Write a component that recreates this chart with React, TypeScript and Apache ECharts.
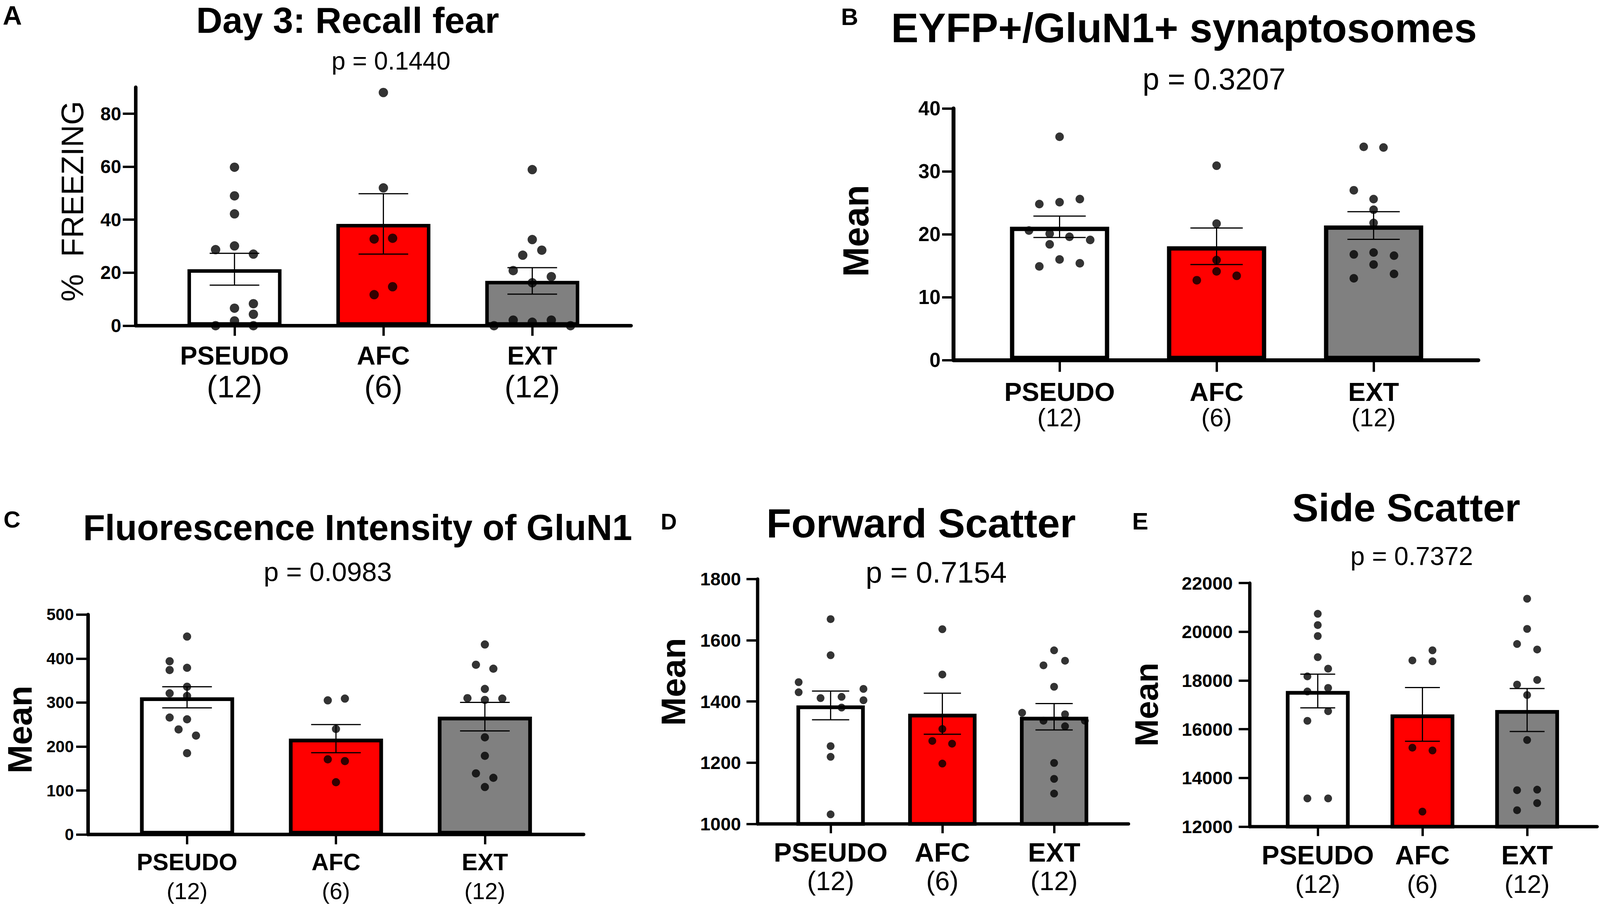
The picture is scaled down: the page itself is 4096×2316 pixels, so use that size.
import React, { useEffect, useRef } from "react";
import * as echarts from "echarts";

// ---------- DATA ----------
const CATEGORIES = ["PSEUDO", "AFC", "EXT"];
const GROUP_SIZES = ["(12)", "(6)", "(12)"];
const BAR_COLORS = ["#ffffff", "#ff0000", "#808080"];

// Panel A: Day 3 recall fear (% freezing)
const A_TICKS = [0, 20, 40, 60, 80];
const A_MEANS = [21.3, 38.4, 16.9];
const A_SEMS = [6.0, 11.4, 5.0];
const A_PSEUDO = [59.8, 49.0, 42.2, 30.1, 28.7, 27.0, 8.3, 6.6, 4.3, 1.8, 0, 0];
const A_PSEUDO_JIT = [0, 0, 0, 0, -0.127, 0.127, 0.127, 0, 0.127, 0, -0.127, 0.127];
const A_AFC = [88.0, 52.0, 33.0, 32.7, 14.7, 11.7];
const A_AFC_JIT = [0, 0, 0.062, -0.062, 0.062, -0.062];
const A_EXT = [58.9, 32.5, 28.5, 26.6, 20.8, 18.5, 16.2, 2.1, 2.1, 1.3, 0, 0];
const A_EXT_JIT = [0, 0, 0.064, -0.064, -0.128, 0.128, 0, -0.128, 0.128, 0, -0.257, 0.257];

// Panel B: EYFP+/GluN1+ synaptosomes
const B_TICKS = [0, 10, 20, 30, 40];
const B_MEANS = [21.2, 18.1, 21.4];
const B_SEMS = [1.7, 2.9, 2.2];
const B_PSEUDO = [35.5, 24.8, 25.1, 25.6, 20.6, 20.1, 19.6, 19.1, 18.4, 16.0, 14.9, 15.4];
const B_PSEUDO_JIT = [0, -0.129, 0, 0.129, -0.195, -0.063, 0.063, 0.195, -0.063, 0, -0.129, 0.129];
const B_AFC = [30.9, 21.7, 15.9, 14.1, 12.7, 13.4];
const B_AFC_JIT = [0, 0, 0, 0, -0.126, 0.128];
const B_EXT = [33.9, 33.8, 27.0, 25.6, 23.9, 21.8, 16.8, 17.1, 16.6, 15.2, 13.0, 13.7];
const B_EXT_JIT = [-0.063, 0.063, -0.126, 0, 0, 0, -0.126, 0, 0.13, 0, -0.126, 0.13];

// Panel C: Fluorescence intensity of GluN1
const C_TICKS = [0, 100, 200, 300, 400, 500];
const C_MEANS = [312, 218, 268];
const C_SEMS = [24, 32, 32.5];
const C_PSEUDO = [450, 394, 374, 379, 336, 321, 315, 266, 262, 239, 225, 185];
const C_PSEUDO_JIT = [0, -0.117, -0.117, 0, 0, -0.117, 0, -0.117, 0, -0.057, 0.06, 0];
const C_AFC = [305, 309, 240, 171, 167, 119];
const C_AFC_JIT = [-0.055, 0.06, 0, -0.055, 0.06, 0];
const C_EXT = [432, 386, 377, 331, 310, 306, 309, 221, 179, 139, 129, 108];
const C_EXT_JIT = [0, -0.06, 0.057, 0, -0.117, 0, 0.117, 0, 0, -0.06, 0.057, 0];

// Panel D: Forward scatter
const D_TICKS = [1000, 1200, 1400, 1600, 1800];
const D_MEANS = [1387, 1360, 1350];
const D_SEMS = [47, 67, 43];
const D_PSEUDO = [1669, 1551, 1463, 1430, 1411, 1415, 1441, 1404, 1380, 1254, 1219, 1031];
const D_PSEUDO_JIT = [0, 0, -0.286, -0.286, -0.09, 0.098, 0.294, 0.294, 0.098, 0, 0, 0];
const D_AFC = [1636, 1488, 1310, 1271, 1262, 1197];
const D_AFC_JIT = [0, 0, 0, -0.09, 0.087, 0];
const D_EXT = [1567, 1533, 1518, 1448, 1363, 1358, 1337, 1319, 1337, 1199, 1147, 1099];
const D_EXT_JIT = [0, 0.098, -0.095, 0, -0.286, 0.098, -0.095, 0.098, 0.275, 0, 0, 0];

// Panel E: Side scatter
const E_TICKS = [12000, 14000, 16000, 18000, 20000, 22000];
const E_MEANS = [17570, 16610, 16790];
const E_SEMS = [693, 1103, 884];
const E_PSEUDO = [20738, 20276, 19826, 18959, 18486, 18170, 17698, 17551, 16346, 16740, 13160, 13160];
const E_PSEUDO_JIT = [0, 0, 0, 0, 0.099, -0.099, 0.099, -0.099, -0.099, 0.099, -0.099, 0.099];
const E_AFC = [19240, 18824, 18790, 15243, 15130, 12619];
const E_AFC_JIT = [0.096, -0.096, 0.096, -0.096, 0.096, 0];
const E_EXT = [21357, 20118, 19499, 19274, 17833, 18024, 17405, 15558, 13498, 13520, 12968, 12676];
const E_EXT_JIT = [0, 0, -0.096, 0.096, -0.096, 0.096, 0, 0, -0.096, 0.096, 0.096, -0.096];

const TITLES = [
  "Day 3: Recall fear",
  "EYFP+/GluN1+ synaptosomes",
  "Fluorescence Intensity of GluN1",
  "Forward Scatter",
  "Side Scatter",
];
const P_VALUES = ["p = 0.1440", "p = 0.3207", "p = 0.0983", "p = 0.7154", "p = 0.7372"];
const PANEL_LETTERS = ["A", "B", "C", "D", "E"];
const Y_TITLES = ["%  FREEZING", "Mean", "Mean", "Mean", "Mean"];

// ---------- LAYOUT (px) ----------
const FONT = "'Liberation Sans', Arial, Helvetica, sans-serif";

const PANELS = [
  {
    means: A_MEANS, sems: A_SEMS, ticks: A_TICKS, yMin: 0, yMax: 90,
    groups: [[A_PSEUDO, A_PSEUDO_JIT], [A_AFC, A_AFC_JIT], [A_EXT, A_EXT_JIT]],
    grid: { left: 347.4, top: 223.2, width: 1268.1, height: 610.2 }, xMin: -0.6635, xMax: 2.6635,
    barW: 240.7, border: 9, axisW: 9, yTickLen: 33, xTickLen: 26, yLabSize: 48, yLabMargin: 37,
    dot: 24, s1: 66, s2: 80, l1: 72, l2: 86, xLabMargin: 40.7,
    letter: [31.5, 38.5, 68], title: [890, 84, 93], p: [1001, 178, 64], ytitle: [185, 515, 79, "normal"],
  },
  {
    means: B_MEANS, sems: B_SEMS, ticks: B_TICKS, yMin: 0, yMax: 40,
    groups: [[B_PSEUDO, B_PSEUDO_JIT], [B_AFC, B_AFC_JIT], [B_EXT, B_EXT_JIT]],
    grid: { left: 2440.8, top: 277.6, width: 1343.7, height: 644 }, xMin: -0.676, xMax: 2.667,
    barW: 254, border: 11, axisW: 10, yTickLen: 29, xTickLen: 30, yLabSize: 51, yLabMargin: 33,
    dot: 22, s1: 67, s2: 64, l1: 67.5, l2: 65.5, xLabMargin: 47.6,
    letter: [2175, 43, 61], title: [3031, 108, 105], p: [3108, 228.6, 77], ytitle: [2191, 591, 92, "bold"],
  },
  {
    means: C_MEANS, sems: C_SEMS, ticks: C_TICKS, yMin: 0, yMax: 500,
    groups: [[C_PSEUDO, C_PSEUDO_JIT], [C_AFC, C_AFC_JIT], [C_EXT, C_EXT_JIT]],
    grid: { left: 225, top: 1572.8, width: 1269, height: 562.9 }, xMin: -0.666, xMax: 2.663,
    barW: 241, border: 9.5, axisW: 9, yTickLen: 30, xTickLen: 25, yLabSize: 42, yLabMargin: 36,
    dot: 21, s1: 61, s2: 59, l1: 66, l2: 85, xLabMargin: 36.9,
    letter: [30.6, 1329, 60], title: [915.6, 1382, 92], p: [839, 1487, 69], ytitle: [50, 1867, 88, "bold"],
  },
  {
    means: D_MEANS, sems: D_SEMS, ticks: D_TICKS, yMin: 1000, yMax: 1800,
    groups: [[D_PSEUDO, D_PSEUDO_JIT], [D_AFC, D_AFC_JIT], [D_EXT, D_EXT_JIT]],
    grid: { left: 1939, top: 1481.8, width: 950, height: 626.6 }, xMin: -0.655, xMax: 2.666,
    barW: 175, border: 9.5, axisW: 8.5, yTickLen: 28, xTickLen: 24, yLabSize: 47, yLabMargin: 42,
    dot: 20, s1: 69, s2: 68, l1: 72, l2: 73, xLabMargin: 36.7,
    letter: [1712, 1335, 57], title: [2358, 1374.6, 104], p: [2396.6, 1491, 76], ytitle: [1723, 1745, 88, "bold"],
  },
  {
    means: E_MEANS, sems: E_SEMS, ticks: E_TICKS, yMin: 12000, yMax: 22000,
    groups: [[E_PSEUDO, E_PSEUDO_JIT], [E_AFC, E_AFC_JIT], [E_EXT, E_EXT_JIT]],
    grid: { left: 3199, top: 1492.2, width: 889.7, height: 623.4 }, xMin: -0.651, xMax: 2.669,
    barW: 163.4, border: 9.5, axisW: 8.5, yTickLen: 28, xTickLen: 24, yLabSize: 47, yLabMargin: 43,
    dot: 20, s1: 68, s2: 65, l1: 72, l2: 76, xLabMargin: 36.8,
    letter: [2919, 1333, 62], title: [3600, 1334, 101], p: [3614, 1446, 66], ytitle: [2935, 1803, 84, "bold"],
  },
];

const CENTRAL = 0.3465; // distance from alphabetic baseline to central baseline (em)

function textEl(text: string, x: number, baseline: number, size: number, weight: string, rotation = 0) {
  return {
    type: "text",
    x,
    y: rotation ? baseline : baseline - CENTRAL * size,
    rotation,
    z: 100,
    style: {
      text,
      fontSize: size,
      fontWeight: weight,
      fontFamily: FONT,
      fill: "#000",
      align: "center",
      verticalAlign: "middle",
    },
  };
}

function buildOption() {
  const grids: any[] = [];
  const xAxes: any[] = [];
  const yAxes: any[] = [];
  const series: any[] = [];
  const graphics: any[] = [];

  PANELS.forEach((p, i) => {
    grids.push({ ...p.grid, containLabel: false });
    xAxes.push({
      type: "value",
      gridIndex: i,
      min: p.xMin,
      max: p.xMax,
      splitLine: { show: false },
      axisLine: { show: true, onZero: false, lineStyle: { color: "#000", width: p.axisW } },
      axisTick: { show: true, customValues: [0, 1, 2], length: p.xTickLen, lineStyle: { color: "#000", width: 6 } },
      axisLabel: {
        show: true,
        customValues: [0, 1, 2],
        margin: p.xLabMargin,
        formatter: (v: number) => {
          const k = Math.round(v);
          return `{a|${CATEGORIES[k]}}\n{b|${GROUP_SIZES[k]}}`;
        },
        rich: {
          a: { fontFamily: FONT, fontWeight: "bold", fontSize: p.s1, lineHeight: p.l1, color: "#000" },
          b: { fontFamily: FONT, fontWeight: "normal", fontSize: p.s2, lineHeight: p.l2, color: "#000" },
        },
      },
    });
    yAxes.push({
      type: "value",
      gridIndex: i,
      min: p.yMin,
      max: p.yMax,
      splitLine: { show: false },
      axisLine: { show: true, onZero: false, lineStyle: { color: "#000", width: p.axisW } },
      axisTick: { show: true, customValues: p.ticks, length: p.yTickLen, lineStyle: { color: "#000", width: 6 } },
      axisLabel: {
        show: true,
        customValues: p.ticks,
        margin: p.yLabMargin,
        fontFamily: FONT,
        fontWeight: "bold",
        fontSize: p.yLabSize,
        color: "#000",
        formatter: (v: number) => String(v),
      },
    });

    series.push({
      type: "bar",
      xAxisIndex: i,
      yAxisIndex: i,
      barWidth: p.barW,
      z: 2,
      clip: true,
      data: p.means.map((m, k) => ({
        value: [k, m],
        itemStyle: { color: BAR_COLORS[k], borderColor: "#000", borderWidth: p.border },
      })),
    });

    series.push({
      type: "custom",
      xAxisIndex: i,
      yAxisIndex: i,
      z: 3,
      clip: false,
      encode: { x: 0, y: [1, 2] },
      data: p.means.map((m, k) => [k, m - p.sems[k], m + p.sems[k]]),
      renderItem: (params: any, api: any) => {
        const x = api.value(0);
        const hi = api.coord([x, api.value(2)]);
        const lo = api.coord([x, api.value(1)]);
        const half = api.size([1, 0])[0] / 6;
        const st = { stroke: "#000", lineWidth: 3 };
        return {
          type: "group",
          children: [
            { type: "line", shape: { x1: hi[0], y1: hi[1], x2: lo[0], y2: lo[1] }, style: st },
            { type: "line", shape: { x1: hi[0] - half, y1: hi[1], x2: hi[0] + half, y2: hi[1] }, style: st },
            { type: "line", shape: { x1: lo[0] - half, y1: lo[1], x2: lo[0] + half, y2: lo[1] }, style: st },
          ],
        };
      },
    });

    const pts: number[][] = [];
    p.groups.forEach(([vals, jit], k) => {
      vals.forEach((v, j) => pts.push([k + jit[j], v]));
    });
    series.push({
      type: "scatter",
      xAxisIndex: i,
      yAxisIndex: i,
      z: 4,
      clip: false,
      symbol: "circle",
      symbolSize: p.dot,
      itemStyle: { color: "#000" },
      data: pts,
    });

    graphics.push(textEl(PANEL_LETTERS[i], p.letter[0], p.letter[1] + CENTRAL * p.letter[2], p.letter[2], "bold"));
    graphics.push(textEl(TITLES[i], p.title[0], p.title[1], p.title[2], "bold"));
    graphics.push(textEl(P_VALUES[i], p.p[0], p.p[1], p.p[2], "normal"));
    graphics.push(
      textEl(Y_TITLES[i], p.ytitle[0] as number, p.ytitle[1] as number, p.ytitle[2] as number, p.ytitle[3] as string, Math.PI / 2)
    );
  });

  return {
    animation: false,
    backgroundColor: "#ffffff",
    textStyle: { fontFamily: FONT },
    grid: grids,
    xAxis: xAxes,
    yAxis: yAxes,
    series,
    graphic: { elements: graphics },
  };
}

export default function App() {
  const ref = useRef<HTMLDivElement>(null);
  useEffect(() => {
    document.body.style.margin = "0";
    document.body.style.overflow = "hidden";
    if (!ref.current) return;
    const chart = echarts.init(ref.current, undefined, { renderer: "svg" });
    chart.setOption(buildOption() as any);
    return () => chart.dispose();
  }, []);
  return (
    <div
      ref={ref}
      style={{ position: "absolute", left: 0, top: 0, width: 4096, height: 2316, background: "#fff" }}
    />
  );
}
